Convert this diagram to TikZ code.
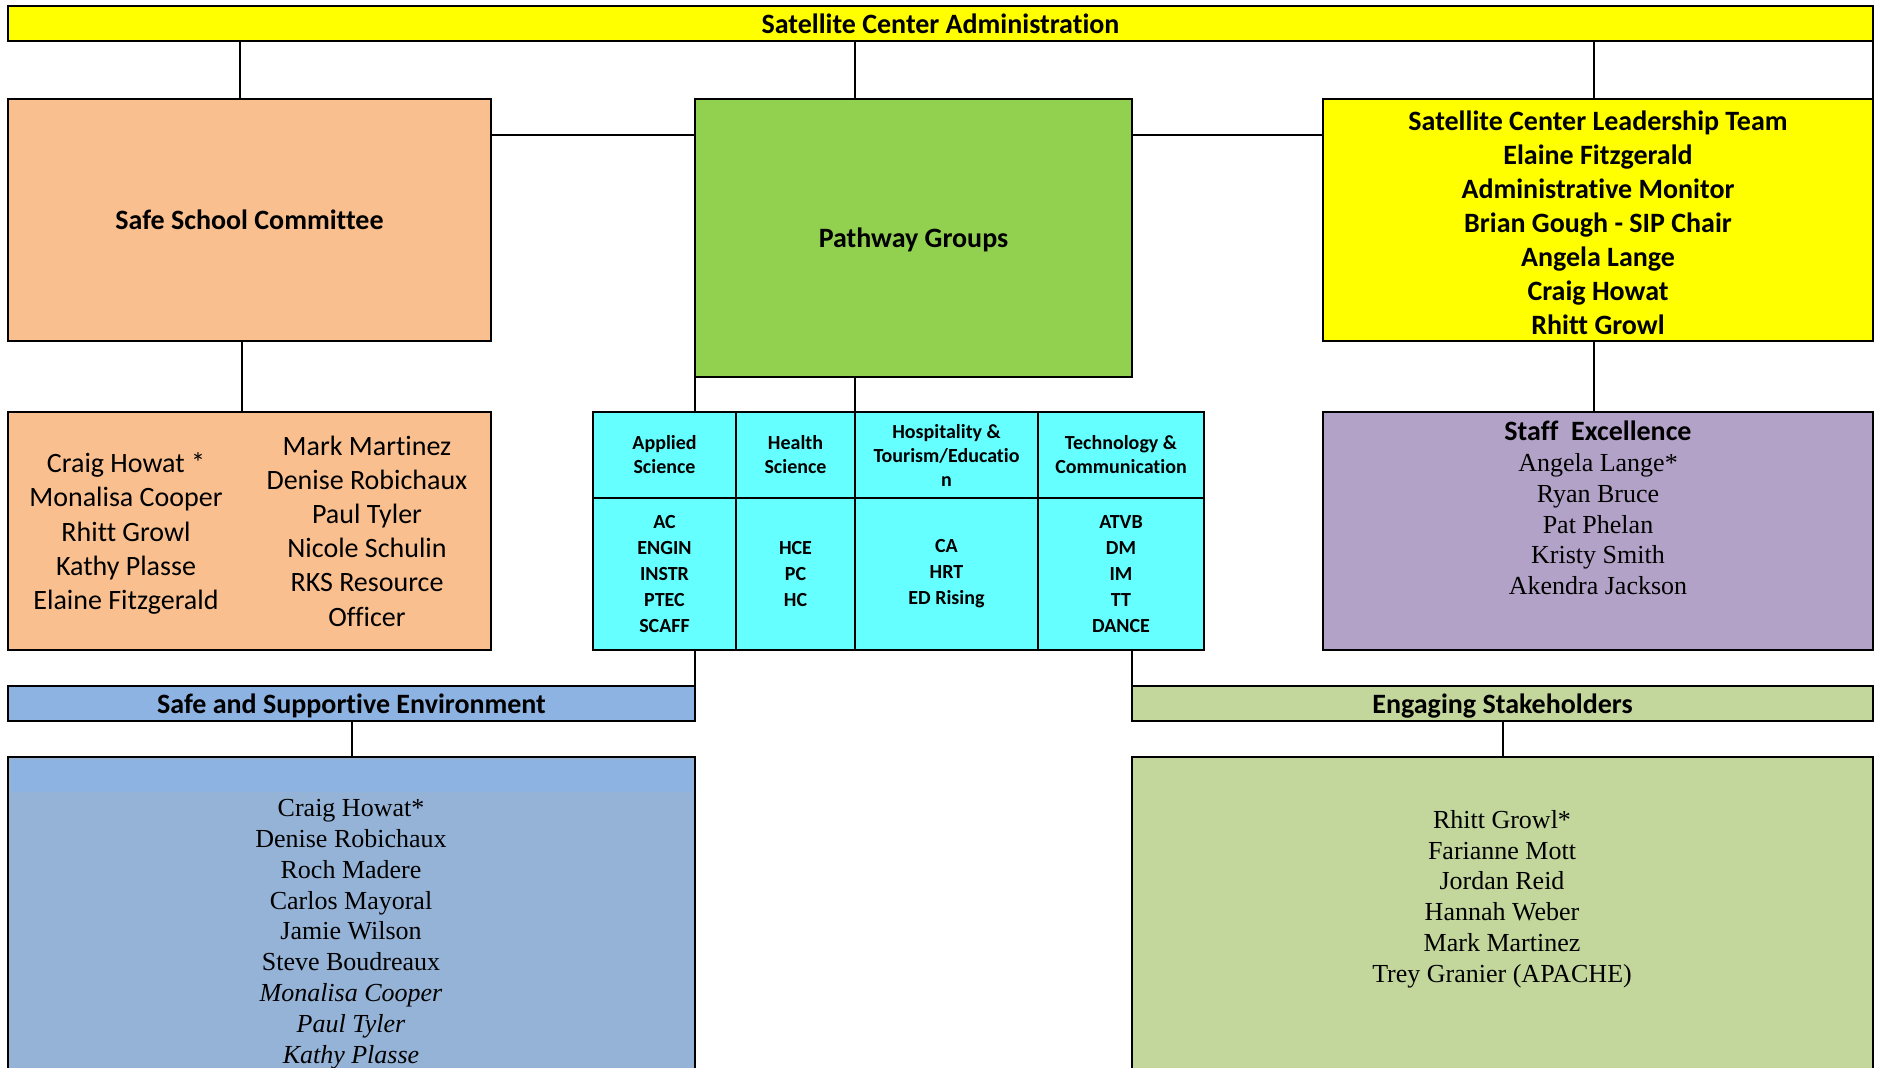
\documentclass[tikz,border=0pt]{standalone}
\usepackage{fontspec}
\setmainfont{Liberation Serif}
\newfontfamily\calibri[Ligatures=NoCommon]{Carlito}
\usepackage{tikz}
\definecolor{admyellow}{HTML}{FFFF00}
\definecolor{peach}{HTML}{F9BF8F}
\definecolor{pathgreen}{HTML}{92D050}
\definecolor{pathcyan}{HTML}{66FFFF}
\definecolor{staffpurple}{HTML}{B2A2C7}
\definecolor{barblue}{HTML}{8DB3E2}
\definecolor{boxblue}{HTML}{95B3D7}
\definecolor{stakegreen}{HTML}{C3D69B}
\tikzstyle{box} = [rectangle, draw=black, line width=1pt, inner sep=0pt, outer sep=0pt]
\tikzstyle{head} = [font=\calibri\bfseries\fontsize{14}{17}\selectfont, align=center, text height=10.5pt, text depth=1pt]
\tikzstyle{headlines} = [font=\calibri\bfseries\fontsize{14}{17}\selectfont, align=center]
\tikzstyle{cell} = [box, fill=pathcyan, align=center, font=\calibri\bfseries\fontsize{10}{12}\selectfont]
\tikzstyle{cellbody} = [cell, font=\calibri\bfseries\fontsize{10}{13}\selectfont]
\tikzstyle{names} = [align=center, font=\calibri\fontsize{14}{17.1}\selectfont]
\tikzstyle{serifnames} = [align=center, font=\fontsize{13}{15.4}\selectfont]
\tikzstyle{link} = [line width=1pt]

\begin{document}
\begin{tikzpicture}[x=0.5pt, y=-0.5pt]
  \useasboundingbox (0,0) rectangle (1877,1067);

  % top row
  \node (admin) [box, fill=admyellow, minimum width=932.5pt, minimum height=17.5pt, head] at (940.5,23.5) {Satellite Center Administration};
  \node (safe) [box, fill=peach, minimum width=241.5pt, minimum height=121pt, head] at (249.5,220) {Safe School Committee};
  \node (pathway) [box, fill=pathgreen, minimum width=218.5pt, minimum height=139pt, head] at (913.5,238) {Pathway Groups};
  \node (leaders) [box, fill=admyellow, minimum width=275pt, minimum height=121pt] at (1598,220) {};
  \node (leaderlist) [headlines] at (1598,222.5) {Satellite Center Leadership Team\\Elaine Fitzgerald\\Administrative Monitor\\Brian Gough - SIP Chair\\Angela Lange\\Craig Howat\\Rhitt Growl};

  % middle row
  \node (safenames) [box, fill=peach, minimum width=241.5pt, minimum height=119pt] at (249.5,531) {};
  \node (safeleft) [names] at (126,533.5) {Craig Howat *\\Monalisa Cooper\\Rhitt Growl\\Kathy Plasse\\Elaine Fitzgerald};
  \node (saferight) [names] at (367,531) {Mark Martinez\\Denise Robichaux\\Paul Tyler\\Nicole Schulin\\RKS Resource\\Officer};

  \node (applied) [cell, minimum width=71.5pt, minimum height=43pt] at (664.5,455) {Applied\\Science};
  \node (health) [cell, minimum width=59.5pt, minimum height=43pt] at (795.5,455) {Health\\Science};
  \node (hosp) [cell, minimum width=91.5pt, minimum height=43pt] at (946.5,455) {Hospitality \&\\Tourism/Educatio\\n};
  \node (tech) [cell, minimum width=83pt, minimum height=43pt] at (1121,455) {Technology \&\\Communication};
  \node (appliedlist) [cellbody, minimum width=71.5pt, minimum height=76pt] at (664.5,574) {AC\\ENGIN\\INSTR\\PTEC\\SCAFF};
  \node (healthlist) [cellbody, minimum width=59.5pt, minimum height=76pt] at (795.5,574) {HCE\\PC\\HC};
  \node (hosplist) [cellbody, minimum width=91.5pt, minimum height=76pt] at (946.5,574) {CA\\HRT\\ED Rising};
  \node (techlist) [cellbody, minimum width=83pt, minimum height=76pt] at (1121,574) {ATVB\\DM\\IM\\TT\\DANCE};

  \node (staff) [box, fill=staffpurple, minimum width=275pt, minimum height=119pt] at (1598,531) {};
  \node (stafflist) [serifnames] at (1598,508) {{\calibri\bfseries\fontsize{14}{15.4}\selectfont Staff\ \ Excellence}\\Angela Lange*\\Ryan Bruce\\Pat Phelan\\Kristy Smith\\Akendra Jackson};

  % bottom row
  \node (supportbar) [box, fill=barblue, minimum width=343.5pt, minimum height=17.5pt, head] at (351.5,703.5) {Safe and Supportive Environment};
  \node (supportbox) [box, fill=boxblue, minimum width=343.5pt, minimum height=171.5pt] at (351.5,928.5) {};
  \node (band) [fill=barblue, inner sep=0pt, minimum width=340pt, minimum height=16pt] at (352,776) {};
  \node (supportlist) [serifnames] at (351,934) {Craig Howat*\\Denise Robichaux\\Roch Madere\\Carlos Mayoral\\Jamie Wilson\\Steve Boudreaux\\\textit{Monalisa Cooper}\\\textit{Paul Tyler}\\\textit{Kathy Plasse}};

  \node (stakebar) [box, fill=stakegreen, minimum width=370.5pt, minimum height=17.5pt, head] at (1502.5,703.5) {Engaging Stakeholders};
  \node (stakebox) [box, fill=stakegreen, minimum width=370.5pt, minimum height=171.5pt] at (1502.5,928.5) {};
  \node (stakelist) [serifnames] at (1502,899) {Rhitt Growl*\\Farianne Mott\\Jordan Reid\\Hannah Weber\\Mark Martinez\\Trey Granier (APACHE)};

  % connectors
  \coordinate (safetop) at ([xshift=-5pt]safe.north);
  \coordinate (safebottom) at ([xshift=-4pt]safe.south);
  \coordinate (leadtop) at ([xshift=-2pt]leaders.north);
  \coordinate (leadbottom) at ([xshift=-2pt]leaders.south);
  \coordinate (hbar) at (0,135);
  \draw [link] (safetop |- admin.south) -- (safetop);
  \draw [link] (admin.south -| hosp.north west) -- (pathway.north -| hosp.north west);
  \draw [link] (leadtop |- admin.south) -- (leadtop);
  \draw [link] (admin.south east) -- (leaders.north east);
  \draw [link] (hbar -| safe.east) -- (hbar -| pathway.west);
  \draw [link] (hbar -| pathway.east) -- (hbar -| leaders.west);
  \draw [link] (safebottom) -- (safebottom |- safenames.north);
  \draw [link] (pathway.south west) -- (pathway.south west |- applied.north);
  \draw [link] (hosp.north west |- pathway.south) -- (hosp.north west);
  \draw [link] (leadbottom) -- (leadbottom |- staff.north);
  \draw [link] (supportbar.north east |- appliedlist.south) -- (supportbar.north east);
  \draw [link] (stakebar.north west |- techlist.south) -- (stakebar.north west);
  \draw [link] (supportbar.south) -- (supportbox.north);
  \draw [link] (stakebar.south) -- (stakebox.north);
\end{tikzpicture}
\end{document}
